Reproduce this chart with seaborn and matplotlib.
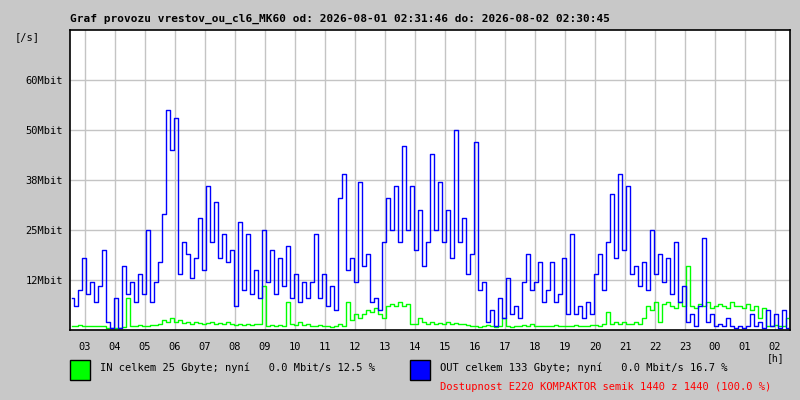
import numpy as np
import pandas as pd
import matplotlib
matplotlib.use("Agg")
import matplotlib.pyplot as plt
import seaborn as sns
from matplotlib.patches import Rectangle

# traffic in Mbit/s, one sample every 8 minutes starting 02:34
traffic_out = [
    8, 6, 10, 18, 9, 12, 7, 11, 20, 2,
    0.5, 8, 0.5, 16, 9, 12, 7, 14, 9, 25,
    7, 12, 17, 29, 55, 45, 53, 14, 22, 19,
    13, 18, 28, 15, 36, 22, 32, 18, 24, 17,
    20, 6, 27, 10, 24, 9, 15, 8, 25, 12,
    20, 9, 18, 11, 21, 8, 14, 7, 12, 8,
    12, 24, 8, 14, 6, 11, 5, 33, 39, 15,
    18, 12, 37, 16, 19, 7, 8, 5, 22, 33,
    25, 36, 22, 46, 25, 36, 20, 30, 16, 22,
    44, 25, 37, 22, 30, 18, 50, 22, 28, 14,
    19, 47, 10, 12, 2, 5, 1, 8, 3, 13,
    4, 6, 3, 12, 19, 10, 12, 17, 7, 10,
    17, 7, 9, 18, 4, 24, 4, 6, 3, 7,
    4, 14, 19, 10, 22, 34, 18, 39, 20, 36,
    14, 16, 11, 17, 10, 25, 14, 19, 12, 18,
    9, 22, 7, 11, 2, 4, 1, 6, 23, 2,
    4, 1, 1.5, 1, 3, 1, 0.5, 1, 0.5, 1,
    4, 1, 2, 0.5, 5, 1, 4, 0.5, 5, 0.5,
]
traffic_in = [
    1, 1, 1.2, 1, 1, 1.1, 1, 1, 1,
    0.6, 0.5, 0.5, 0.6, 0.8,
    8,
    1, 1, 1.2, 1, 1, 1.3, 1.2,
    1.5, 2.5, 2, 3, 2, 2.5, 1.8,
    2, 1.5, 2, 1.8, 1.5, 1.7, 2, 1.5, 1.8, 1.6, 2,
    1.5, 1.2, 1.5, 1.3, 1.5, 1.2, 1.4, 1.5,
    11,
    1, 1.2, 1, 1.3, 1,
    7,
    1.5, 1.2, 2, 1.3, 1.5,
    1, 1, 1.2, 1, 1, 0.8, 1, 1.5, 1,
    7,
    2.5, 4, 3, 4,
    5, 4.5, 5.5, 4,
    3,
    6, 6.5, 6, 7, 6, 6.5,
    1.5, 1.5, 3, 2,
    1.5, 2, 1.5, 1.8, 1.5, 2, 1.5, 1.8, 1.5, 1.5, 1.2,
    1, 1, 0.8, 1, 1.2, 1, 0.8, 1, 3, 1, 0.8, 1, 1, 1.2, 1, 1.5, 1, 1,
    1, 1, 1, 1.2, 1, 1, 1, 1, 1.2, 1, 1, 1, 1.2, 1.3, 1, 1.5,
    4.5,
    1.5, 2, 1.5, 2, 1.5, 1.5, 2, 1.5,
    3, 6, 5,
    7, 2, 6.5, 7,
    6, 5.5, 7, 6,
    16,
    6, 5.5, 6.5, 6, 7, 5.5, 6, 6.5, 6, 5.5, 7, 6, 6, 5.5, 6.5,
    5, 6, 3, 5.5,
    1, 1, 1.2, 1, 1,
    3,
]
hour_labels = ["03", "04", "05", "06", "07", "08", "09", "10", "11", "12", "13", "14",
               "15", "16", "17", "18", "19", "20", "21", "22", "23", "00", "01", "02"]
y_ticks = [12.5, 25, 37.5, 50, 62.5]
y_labels = ["12Mbit", "25Mbit", "38Mbit", "50Mbit", "60Mbit"]

# minutes since 02:30
minutes = 4 + 8 * np.arange(len(traffic_out))
df = pd.DataFrame({"min": minutes, "in": traffic_in, "out": traffic_out})

plt.rcParams["font.family"] = ["DejaVu Sans Mono"]
fig = plt.figure(figsize=(8, 4), dpi=100, facecolor="#c8c8c8")
ax = fig.add_axes([70 / 800, 70 / 400, 720 / 800, 300 / 400])
ax.set_facecolor("white")

sns.lineplot(data=df, x="min", y="in", ax=ax, color="#00ff00", linewidth=1.0,
             drawstyle="steps-mid")
sns.lineplot(data=df, x="min", y="out", ax=ax, color="#0000ff", linewidth=1.0,
             drawstyle="steps-mid")

ax.set_xlim(0, 1440)
ax.set_ylim(0, 75)
ax.set_xticks([30 + 60 * i for i in range(24)])
ax.set_xticklabels(hour_labels)
ax.set_yticks(y_ticks)
ax.set_yticklabels(y_labels)
ax.tick_params(length=0, labelsize=7.5, pad=5)
ax.tick_params(axis="x", pad=9)
ax.grid(True, color="#c4c4c4", linewidth=1.0)
ax.set_axisbelow(True)
ax.set_xlabel("")
ax.set_ylabel("")
for s in ax.spines.values():
    s.set_color("black")
    s.set_linewidth(1.2)

fig.text(70 / 800, 1 - 19 / 400, "Graf provozu vrestov_ou_cl6_MK60 od: 2026-08-01 02:31:46 do: 2026-08-02 02:30:45",
         fontsize=8, fontweight="bold", va="center", ha="left")
fig.text(15 / 800, 1 - 37 / 400, "[/s]", fontsize=7.5, va="center", ha="left")
fig.text(776 / 800, 1 - 358 / 400, "[h]", fontsize=7, va="center", ha="center")

fig.patches.append(Rectangle((70 / 800, 1 - 380 / 400), 20 / 800, 20 / 400,
                             transform=fig.transFigure, facecolor="#00ff00", edgecolor="black", lw=1))
fig.patches.append(Rectangle((410 / 800, 1 - 380 / 400), 20 / 800, 20 / 400,
                             transform=fig.transFigure, facecolor="#0000ff", edgecolor="black", lw=1))
fig.text(100 / 800, 1 - 368 / 400, "IN celkem 25 Gbyte; nyní   0.0 Mbit/s 12.5 %",
         fontsize=7.5, va="center", ha="left")
fig.text(440 / 800, 1 - 368 / 400, "OUT celkem 133 Gbyte; nyní   0.0 Mbit/s 16.7 %",
         fontsize=7.5, va="center", ha="left")
fig.text(440 / 800, 1 - 387 / 400, "Dostupnost E220 KOMPAKTOR semik 1440 z 1440 (100.0 %)",
         fontsize=7.5, va="center", ha="left", color="#ff0000")

fig.savefig("out.png", dpi=100, facecolor=fig.get_facecolor())
